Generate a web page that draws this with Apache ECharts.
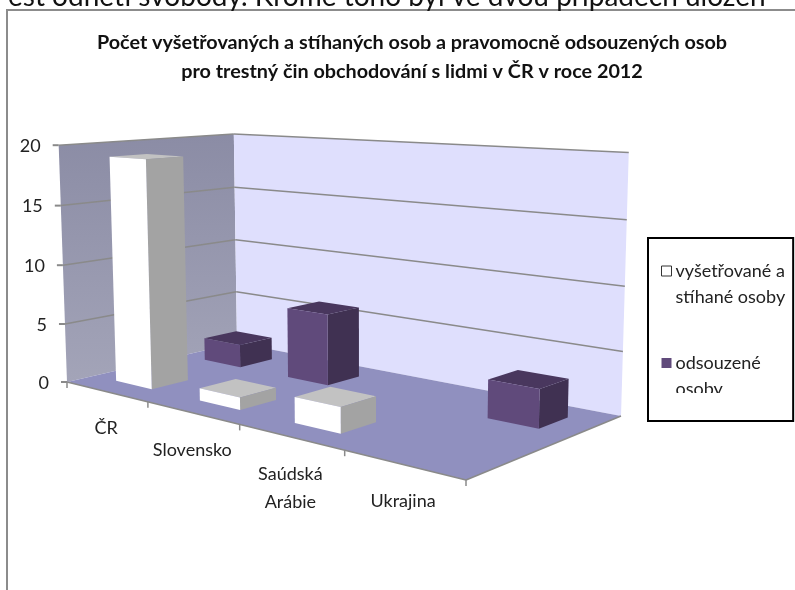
<!DOCTYPE html>
<html>
<head>
<meta charset="utf-8">
<style>
  html, body { margin: 0; padding: 0; background: #fff; }
  #chart { width: 795px; height: 590px; }
</style>
<script src="https://cdn.jsdelivr.net/npm/echarts@6/dist/echarts.min.js"></script>
</head>
<body>
<div id="chart"></div>
<script>
const categories = ['ČR', 'Slovensko', 'Saúdská\nArábie', 'Ukrajina'];
const investigated = [19, 1, 2, 0];
const convicted = [2, 6, 0, 3];
const yTicks = [0, 5, 10, 15, 20];
const NAME_INVESTIGATED = 'vyšetřované a\nstíhané osoby';
const NAME_CONVICTED = 'odsouzené\nosoby';

// hidden cartesian grid, its pixels are turned into plot fractions and then projected
const GRID_SIZE = 400;

// corners of the 3d box as seen in the picture
const FLOOR = { a: [67, 382], b: [466, 480], c: [621, 416], d: [237, 343] };
const TOP = { a: [58, 145], c: [628, 154], d: [235, 133] };

const FONT = 'Lato, sans-serif';
const LINE = '#8a8a8a';

function buildCamera() {
  const { a, b, c, d } = FLOOR;
  const dx1 = b[0] - c[0], dx2 = d[0] - c[0], sx = a[0] - b[0] + c[0] - d[0];
  const dy1 = b[1] - c[1], dy2 = d[1] - c[1], sy = a[1] - b[1] + c[1] - d[1];
  const den = dx1 * dy2 - dx2 * dy1;
  const g = (sx * dy2 - dx2 * sy) / den;
  const h = (dx1 * sy - sx * dy1) / den;
  const cam = {
    xu: b[0] - a[0] + g * b[0], xv: d[0] - a[0] + h * d[0], x0: a[0],
    yu: b[1] - a[1] + g * b[1], yv: d[1] - a[1] + h * d[1], y0: a[1],
    wu: g, wv: h, xh: 0, yh: 0, wh: 0,
  };
  const w = (u, v) => 1 + g * u + h * v;
  const wa = w(0, 0), wc = w(1, 1), wd = w(0, 1);
  cam.wh = (wa * (TOP.a[0] - a[0]) - wc * (TOP.c[0] - c[0])) / (TOP.c[0] - TOP.a[0]);
  cam.xh = (wa * (TOP.a[0] - a[0]) + TOP.a[0] * cam.wh
    + wc * (TOP.c[0] - c[0]) + TOP.c[0] * cam.wh
    + wd * (TOP.d[0] - d[0]) + TOP.d[0] * cam.wh) / 3;
  cam.yh = (wa * (TOP.a[1] - a[1]) + TOP.a[1] * cam.wh
    + wc * (TOP.c[1] - c[1]) + TOP.c[1] * cam.wh
    + wd * (TOP.d[1] - d[1]) + TOP.d[1] * cam.wh) / 3;
  return cam;
}
const CAM = buildCamera();

function project(u, v, h) {
  const w = 1 + CAM.wu * u + CAM.wv * v + CAM.wh * h;
  return [
    (CAM.xu * u + CAM.xv * v + CAM.x0 + CAM.xh * h) / w,
    (CAM.yu * u + CAM.yv * v + CAM.y0 + CAM.yh * h) / w,
  ];
}

function poly(points, fill, z2) {
  return { type: 'polygon', shape: { points }, style: { fill }, z2: z2 || 0 };
}
function seg(p, q, width, z2) {
  return {
    type: 'line',
    shape: { x1: p[0], y1: p[1], x2: q[0], y2: q[1] },
    style: { stroke: LINE, lineWidth: width },
    z2: z2 || 0,
  };
}
function heightOf(api, val) {
  return 1 - api.coord([0, val])[1] / GRID_SIZE;
}

function renderBox() {
  const leftFill = {
    type: 'linear', x: 0, y: 0, x2: 0, y2: 1,
    colorStops: [{ offset: 0, color: '#8b8ca5' }, { offset: 1, color: '#a3a4b8' }],
  };
  return {
    type: 'group',
    children: [
      poly([project(0, 0, 0), project(0, 1, 0), project(0, 1, 1), project(0, 0, 1)], leftFill),
      poly([project(0, 1, 0), project(1, 1, 0), project(1, 1, 1), project(0, 1, 1)], '#dfdffd'),
      poly([project(0, 0, 0), project(1, 0, 0), project(1, 1, 0), project(0, 1, 0)], '#9090bf'),
      seg(project(0, 0, 0), project(1, 0, 0), 1.5, 1),
      seg(project(1, 0, 0), project(1, 1, 0), 1.5, 1),
    ],
  };
}

function renderYTick(params, api) {
  const val = api.value(0);
  const h = heightOf(api, val);
  const front = project(0, 0, h);
  const children = [
    seg([front[0] - 6, front[1]], front, 2),
    {
      type: 'text',
      style: {
        text: String(val), x: front[0] - 18, y: front[1] + 1,
        align: 'right', verticalAlign: 'middle',
        font: '18px ' + FONT, fill: '#222',
      },
    },
  ];
  if (val > 0) {
    children.push(seg(front, project(0, 1, h), 1.5));
    children.push(seg(project(0, 1, h), project(1, 1, h), 1.5));
  }
  return { type: 'group', children };
}

function renderCategory(params, api) {
  const idx = api.value(0);
  const center = api.coord([idx, 0])[0] / GRID_SIZE;
  const band = api.size([1, 0])[0] / GRID_SIZE;
  const tickAt = center + band / 2;
  const mid = project(center, 0, 0);
  const children = [
    {
      type: 'text',
      style: {
        text: categories[idx], x: mid[0], y: mid[1] + 23,
        align: 'center', verticalAlign: 'top', lineHeight: 28,
        font: '18px ' + FONT, fill: '#222',
      },
    },
  ];
  const tick = project(tickAt, 0, 0);
  children.push(seg(tick, [tick[0], tick[1] + 6], 1.5));
  if (idx === 0) {
    const first = project(0, 0, 0);
    children.push(seg(first, [first[0], first[1] + 6], 1.5));
  }
  return { type: 'group', children };
}

function barRenderer(v0, v1, colors) {
  return function (params, api) {
    const val = api.value(1);
    if (!val) {
      return null;
    }
    const base = api.coord([api.value(0), 0])[0] / GRID_SIZE;
    const half = api.size([1, 0])[0] / GRID_SIZE * 0.22;
    const u0 = base - half, u1 = base + half;
    const h = heightOf(api, val);
    return {
      type: 'group',
      children: [
        poly([project(u0, v0, h), project(u1, v0, h), project(u1, v1, h), project(u0, v1, h)], colors.top),
        poly([project(u1, v0, 0), project(u1, v1, 0), project(u1, v1, h), project(u1, v0, h)], colors.side),
        poly([project(u0, v0, 0), project(u1, v0, 0), project(u1, v0, h), project(u0, v0, h)], colors.front),
      ],
    };
  };
}

const chart = echarts.init(document.getElementById('chart'));
chart.setOption({
  animation: false,
  backgroundColor: '#fff',
  title: {
    text: 'Počet vyšetřovaných a stíhaných osob a pravomocně odsouzených osob\npro trestný čin obchodování s lidmi v ČR v roce 2012',
    left: 407,
    top: 23,
    textAlign: 'center',
    textStyle: { fontFamily: FONT, fontSize: 19.8, fontWeight: 'bold', color: '#111', lineHeight: 29 },
  },
  grid: { left: 0, top: 0, width: GRID_SIZE, height: GRID_SIZE },
  xAxis: { type: 'category', data: categories, show: false },
  yAxis: { type: 'value', min: 0, max: 20, interval: 5, show: false },
  legend: {
    orient: 'vertical',
    left: 648,
    top: 238,
    padding: [20, 8, 19, 13],
    itemGap: 40,
    itemWidth: 10,
    itemHeight: 36,
    borderColor: '#000',
    borderWidth: 2,
    selectedMode: false,
    // square sits in the upper part of the symbol, next to the first text line
    icon: 'path://M0,0H10V10H0ZM0,36L0,36',
    textStyle: { fontFamily: FONT, fontSize: 18, color: '#222', lineHeight: 26, padding: [0, 0, 0, -1] },
    data: [
      { name: NAME_INVESTIGATED, itemStyle: { color: '#fff', borderColor: '#333', borderWidth: 1 } },
      { name: NAME_CONVICTED, itemStyle: { color: '#604a7b', borderWidth: 0 } },
    ],
  },
  graphic: [
    { type: 'polyline', z: 10, shape: { points: [[7, 590], [7, 10], [795, 10]] }, style: { stroke: '#8c8c8c', lineWidth: 2, fill: null } },
    {
      type: 'text', z: 10, left: 8, top: -17,
      style: { text: 'est odnětí svobody. Kromě toho byl ve dvou případech uložen', font: '28px ' + FONT, fill: '#111' },
    },
    // the last legend line is cut off in the source picture
    { type: 'rect', z: 10, shape: { x: 672, y: 393, width: 110, height: 24 }, style: { fill: '#fff' } },
  ],
  series: [
    { type: 'custom', z: 1, silent: true, data: [[0]], renderItem: renderBox },
    { type: 'custom', z: 2, silent: true, data: yTicks.map((t) => [t]), encode: { y: 0 }, renderItem: renderYTick },
    { type: 'custom', z: 2, silent: true, data: categories.map((c, i) => [i]), encode: { x: 0 }, renderItem: renderCategory },
    {
      name: NAME_CONVICTED,
      type: 'custom',
      z: 3,
      itemStyle: { color: '#604a7b' },
      data: convicted.map((v, i) => [i, v]),
      encode: { x: 0, y: 1 },
      renderItem: barRenderer(0.655, 0.855, { front: '#604a7b', side: '#403152', top: '#49375e' }),
    },
    {
      name: NAME_INVESTIGATED,
      type: 'custom',
      z: 4,
      itemStyle: { color: '#fff' },
      data: investigated.map((v, i) => [i, v]),
      encode: { x: 0, y: 1 },
      renderItem: barRenderer(0.145, 0.345, { front: '#ffffff', side: '#a3a3a3', top: '#c2c2c2' }),
    },
  ],
});
</script>
</body>
</html>
